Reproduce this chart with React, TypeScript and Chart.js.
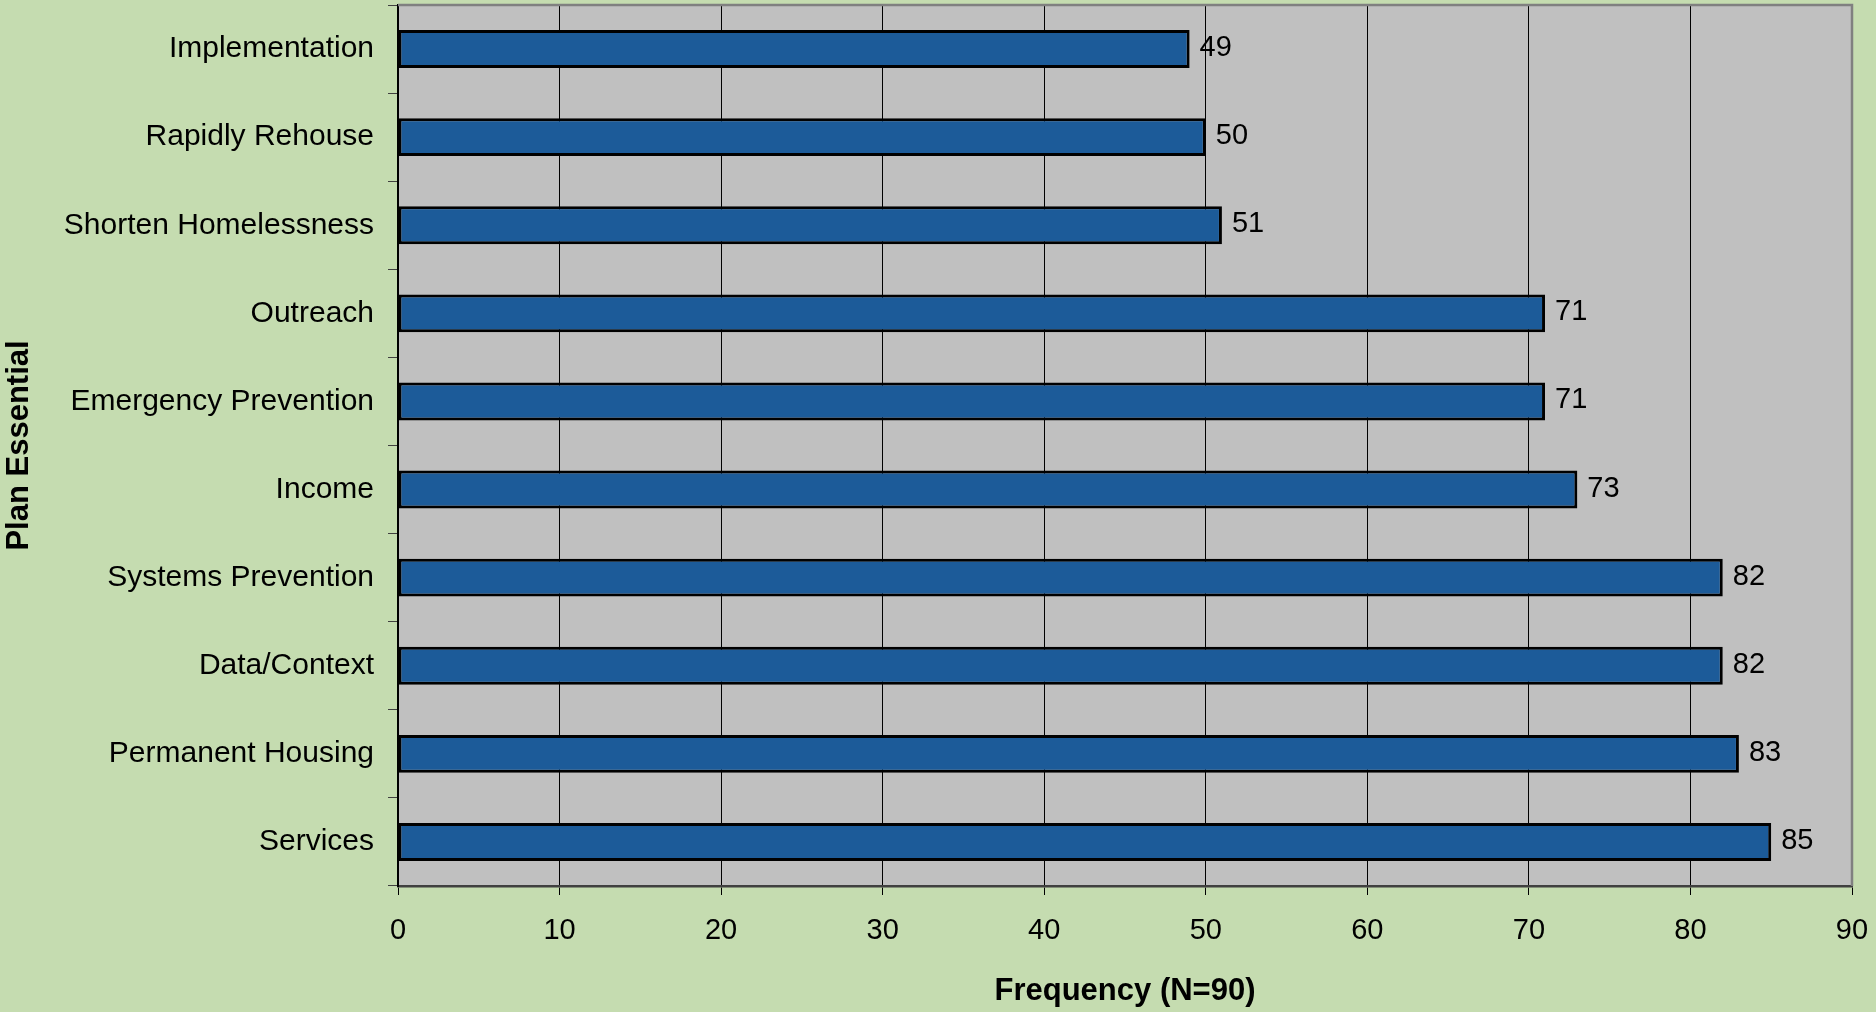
import React, { useEffect, useRef } from "react";
import { Chart, registerables } from "chart.js";

Chart.register(...registerables);

const categories = [
  "Implementation",
  "Rapidly Rehouse",
  "Shorten Homelessness",
  "Outreach",
  "Emergency Prevention",
  "Income",
  "Systems Prevention",
  "Data/Context",
  "Permanent Housing",
  "Services",
];
const frequencies = [49, 50, 51, 71, 71, 73, 82, 82, 83, 85];
const xTitle = "Frequency (N=90)";
const yTitle = "Plan Essential";

const FONT = "'Liberation Sans', Arial, sans-serif";

const bgPlugin = {
  id: "bgPlugin",
  beforeDraw(chart: any) {
    const { ctx, chartArea, width, height } = chart;
    ctx.save();
    ctx.fillStyle = "#C5DCB0";
    ctx.fillRect(0, 0, width, height);
    ctx.fillStyle = "#C0C0C0";
    ctx.fillRect(chartArea.left, chartArea.top, chartArea.right - chartArea.left, chartArea.bottom - chartArea.top);
    ctx.restore();
  },
  afterDraw(chart: any) {
    const { ctx, chartArea } = chart;
    ctx.save();
    ctx.strokeStyle = "#808080";
    ctx.lineWidth = 2.5;
    ctx.beginPath();
    ctx.moveTo(chartArea.left, chartArea.top);
    ctx.lineTo(chartArea.right, chartArea.top);
    ctx.lineTo(chartArea.right, chartArea.bottom);
    ctx.stroke();
    ctx.restore();
  },
};

const labelPlugin = {
  id: "labelPlugin",
  afterDatasetsDraw(chart: any) {
    const { ctx } = chart;
    const meta = chart.getDatasetMeta(0);
    const data = chart.data.datasets[0].data;
    ctx.save();
    ctx.font = `29px ${FONT}`;
    ctx.fillStyle = "#000";
    ctx.textAlign = "left";
    ctx.textBaseline = "middle";
    meta.data.forEach((bar: any, i: number) => {
      ctx.fillText(String(data[i]), bar.x + 10, bar.y - 1);
    });
    ctx.restore();
  },
};

export default function App() {
  const ref = useRef<HTMLCanvasElement>(null);
  useEffect(() => {
    if (!ref.current) return;
    const chart = new Chart(ref.current, {
      type: "bar",
      data: {
        labels: categories,
        datasets: [
          {
            data: frequencies,
            backgroundColor: "#1C5B99",
            borderColor: "#000000",
            borderWidth: 3,
            borderSkipped: false,
            categoryPercentage: 1,
            barPercentage: 0.43,
          },
        ],
      },
      options: {
        indexAxis: "y",
        animation: false,
        responsive: true,
        maintainAspectRatio: false,
        layout: { padding: { top: 5, right: 24, left: 0, bottom: 0 } },
        plugins: { legend: { display: false }, tooltip: { enabled: false } },
        scales: {
          x: {
            min: 0,
            max: 90,
            ticks: { stepSize: 10, color: "#000", font: { family: FONT, size: 29 }, padding: 19 },
            grid: { color: "#000", lineWidth: 1, tickLength: 9, tickColor: "#000" },
            border: { color: "#404040", width: 2.5 },
            title: {
              display: true,
              text: xTitle,
              color: "#000",
              font: { family: FONT, size: 31, weight: "bold", lineHeight: 1.2 },
              padding: { top: 0, bottom: 2 },
            },
            afterFit(scale: any) {
              scale.height = 126;
              scale.paddingLeft = 0;
              scale.paddingRight = 0;
            },
          },
          y: {
            ticks: { color: "#000", font: { family: FONT, size: 30 }, padding: 14 },
            grid: { display: true, drawOnChartArea: false, offset: true, tickLength: 10, tickColor: "#404040" },
            border: { color: "#000", width: 2 },
            title: {
              display: true,
              text: yTitle,
              color: "#000",
              font: { family: FONT, size: 31, weight: "bold", lineHeight: 1.2 },
              padding: { top: 1, bottom: 0 },
            },
            afterFit(scale: any) {
              scale.width = 398;
              scale.paddingTop = 0;
              scale.paddingBottom = 0;
            },
          },
        },
      },
      plugins: [bgPlugin, labelPlugin],
    } as any);
    return () => chart.destroy();
  }, []);
  return (
    <div style={{ position: "fixed", left: 0, top: 0, width: 1876, height: 1012, background: "#C5DCB0" }}>
      <canvas ref={ref} width={1876} height={1012} />
    </div>
  );
}
